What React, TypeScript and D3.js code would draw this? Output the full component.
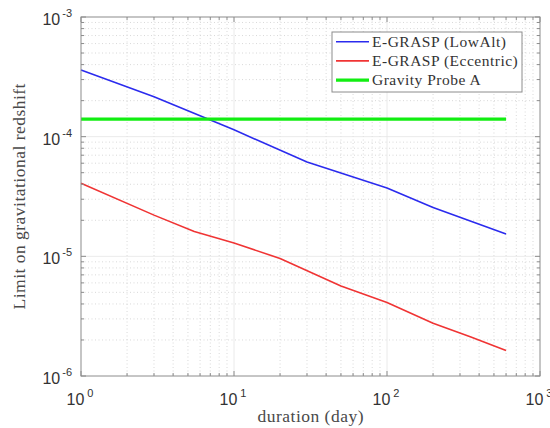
import { useEffect, useRef } from 'react'
import * as d3 from 'd3'

const lowAltDays = [1, 3, 10, 30, 100, 200, 600]
const lowAltLimit = [3.6e-4, 2.16e-4, 1.14e-4, 6.15e-5, 3.72e-5, 2.56e-5, 1.54e-5]

const eccDays = [1, 3, 5.5, 10, 20, 50, 100, 200, 350, 600]
const eccLimit = [4.08e-5, 2.21e-5, 1.61e-5, 1.29e-5, 9.6e-6, 5.66e-6, 4.12e-6, 2.76e-6, 2.13e-6, 1.63e-6]

const gpaDays = [1, 600]
const gpaLimit = [1.4e-4, 1.4e-4]

const xDecades = [0, 1, 2, 3]
const yDecades = [-3, -4, -5, -6]

const seriesNames = ['E-GRASP (LowAlt)', 'E-GRASP (Eccentric)', 'Gravity Probe A']
const seriesColors = ['#2b2bee', '#f03434', '#12ee12']
const seriesWidths = [1.6, 1.6, 3.2]

const W = 550
const H = 428
const margin = { top: 17, right: 10, bottom: 52, left: 81 }

export default function App() {
  const svgRef = useRef<SVGSVGElement>(null)

  useEffect(() => {
    if (!svgRef.current) return
    const svg = d3.select(svgRef.current)
    svg.selectAll('*').remove()

    const innerW = W - margin.left - margin.right
    const innerH = H - margin.top - margin.bottom

    const x = d3.scaleLog().domain([1, 1000]).range([0, innerW])
    const y = d3.scaleLog().domain([1e-6, 1e-3]).range([innerH, 0])

    const g = svg.append('g').attr('transform', `translate(${margin.left},${margin.top})`)

    // minor / major positions
    const xMinor: number[] = []
    const yMinor: number[] = []
    for (let k = 0; k < 3; k++) for (let m = 2; m <= 9; m++) xMinor.push(m * Math.pow(10, k))
    for (let k = -6; k < -3; k++) for (let m = 2; m <= 9; m++) yMinor.push(m * Math.pow(10, k))

    // grid
    xMinor.forEach(v => {
      g.append('line')
        .attr('x1', x(v)).attr('x2', x(v)).attr('y1', 0).attr('y2', innerH)
        .attr('stroke', '#cfcfcf').attr('stroke-width', 0.8).attr('stroke-dasharray', '1,2.5')
    })
    yMinor.forEach(v => {
      g.append('line')
        .attr('x1', 0).attr('x2', innerW).attr('y1', y(v)).attr('y2', y(v))
        .attr('stroke', '#cfcfcf').attr('stroke-width', 0.8).attr('stroke-dasharray', '1,2.5')
    })
    xDecades.slice(1, -1).forEach(e => {
      const v = Math.pow(10, e)
      g.append('line')
        .attr('x1', x(v)).attr('x2', x(v)).attr('y1', 0).attr('y2', innerH)
        .attr('stroke', '#e4e4e4').attr('stroke-width', 0.8)
    })
    yDecades.slice(1, -1).forEach(e => {
      const v = Math.pow(10, e)
      g.append('line')
        .attr('x1', 0).attr('x2', innerW).attr('y1', y(v)).attr('y2', y(v))
        .attr('stroke', '#e4e4e4').attr('stroke-width', 0.8)
    })

    // series
    const line = d3.line<[number, number]>().x(d => x(d[0])).y(d => y(d[1]))
    const series: [number, number][][] = [
      lowAltDays.map((d, i) => [d, lowAltLimit[i]]),
      eccDays.map((d, i) => [d, eccLimit[i]]),
      gpaDays.map((d, i) => [d, gpaLimit[i]]),
    ]
    series.forEach((s, i) => {
      g.append('path')
        .attr('d', line(s))
        .attr('fill', 'none')
        .attr('stroke', seriesColors[i])
        .attr('stroke-width', seriesWidths[i])
        .attr('stroke-linejoin', 'round')
    })

    // box + ticks
    const axisColor = '#8c8c8c'
    g.append('rect')
      .attr('x', 0).attr('y', 0).attr('width', innerW).attr('height', innerH)
      .attr('fill', 'none').attr('stroke', axisColor).attr('stroke-width', 1)

    const tick = (x1: number, y1: number, x2: number, y2: number) =>
      g.append('line').attr('x1', x1).attr('y1', y1).attr('x2', x2).attr('y2', y2)
        .attr('stroke', axisColor).attr('stroke-width', 1)

    xMinor.forEach(v => { tick(x(v), innerH, x(v), innerH - 3); tick(x(v), 0, x(v), 3) })
    yMinor.forEach(v => { tick(0, y(v), 3, y(v)); tick(innerW, y(v), innerW - 3, y(v)) })
    xDecades.forEach(e => {
      const v = Math.pow(10, e)
      tick(x(v), innerH, x(v), innerH - 5); tick(x(v), 0, x(v), 5)
    })
    yDecades.forEach(e => {
      const v = Math.pow(10, e)
      tick(0, y(v), 5, y(v)); tick(innerW, y(v), innerW - 5, y(v))
    })

    // tick labels
    const sans = '"Liberation Sans", Arial, sans-serif'
    xDecades.forEach(e => {
      const t = g.append('text')
        .attr('x', x(Math.pow(10, e)) - 1).attr('y', innerH + 29)
        .attr('text-anchor', 'middle')
        .attr('font-family', sans).attr('font-size', 16).attr('fill', '#333')
      t.append('tspan').text('10')
      t.append('tspan').attr('dx', 3).attr('dy', -8).attr('font-size', 11).text(String(e))
    })
    yDecades.forEach(e => {
      const t = g.append('text')
        .attr('x', -9).attr('y', y(Math.pow(10, e)) + 8)
        .attr('text-anchor', 'end')
        .attr('font-family', sans).attr('font-size', 16).attr('fill', '#333')
      t.append('tspan').text('10')
      t.append('tspan').attr('dx', 2).attr('dy', -8).attr('font-size', 11).text(String(e))
    })

    // axis labels
    const serif = '"Liberation Serif", "Times New Roman", serif'
    g.append('text')
      .attr('x', innerW / 2).attr('y', innerH + 46)
      .attr('text-anchor', 'middle')
      .attr('font-family', serif).attr('font-size', 17.5).attr('fill', '#4a4a4a')
      .attr('textLength', 106).attr('lengthAdjust', 'spacing')
      .text('duration (day)')
    g.append('text')
      .attr('transform', `translate(${-56},${innerH / 2}) rotate(-90)`)
      .attr('text-anchor', 'middle')
      .attr('font-family', serif).attr('font-size', 17.5).attr('fill', '#4a4a4a')
      .attr('textLength', 226).attr('lengthAdjust', 'spacing')
      .text('Limit on gravitational redshift')

    // legend
    const lg = svg.append('g').attr('transform', 'translate(332,32)')
    lg.append('rect')
      .attr('x', 0).attr('y', 0).attr('width', 190).attr('height', 60)
      .attr('fill', '#fff').attr('stroke', '#8c8c8c').attr('stroke-width', 1)
    seriesNames.forEach((name, i) => {
      const yy = 9.7 + i * 19.2
      lg.append('line')
        .attr('x1', 4).attr('x2', 37).attr('y1', yy).attr('y2', yy)
        .attr('stroke', seriesColors[i]).attr('stroke-width', seriesWidths[i])
      lg.append('text')
        .attr('x', 40).attr('y', yy + 5)
        .attr('font-family', serif).attr('font-size', 15.5).attr('fill', '#333')
        .attr('letter-spacing', 0.5)
        .text(name)
    })
  }, [])

  return (
    <div style={{ position: 'absolute', left: 0, top: 0, width: W, height: H, background: '#fff' }}>
      <svg ref={svgRef} width={W} height={H} />
    </div>
  )
}
